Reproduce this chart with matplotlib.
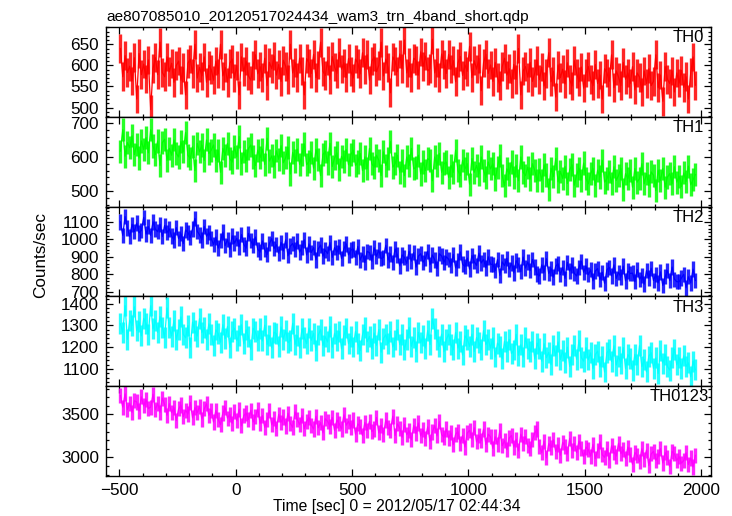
import numpy as np
import matplotlib
matplotlib.use("Agg")
import matplotlib.pyplot as plt
from matplotlib.ticker import MultipleLocator

plt.rcParams['font.family'] = ['Liberation Sans', 'DejaVu Sans']

title = "ae807085010_20120517024434_wam3_trn_4band_short.qdp"
xlabel = "Time [sec] 0 = 2012/05/17 02:44:34"
ylabel = "Counts/sec"

# bin centres [s]
time_start, time_step, n_bins = -495, 10, 248
times = time_start + time_step * np.arange(n_bins)

th0 = [640,573,623,583,598,563,618,520,628,578,603,568,613,495,593,618,578,655,583,573,
       620,585,605,560,600,610,565,595,530,605,615,580,650,570,595,575,620,560,600,590,
       565,610,580,650,575,595,560,605,615,570,600,530,620,585,610,575,565,600,625,580,
       597,572,617,552,607,592,622,577,602,562,612,597,567,650,582,607,572,617,587,530,
       616,606,581,626,571,601,655,586,576,611,566,621,596,581,631,591,606,571,616,586,
       570,615,605,580,630,590,625,565,610,620,585,600,655,575,615,595,535,620,610,585,
       627,592,660,582,607,572,617,612,577,632,597,622,587,592,662,582,607,572,627,602,
       581,626,591,611,561,606,621,576,601,586,645,571,611,591,616,540,606,626,581,601,
       562,607,572,552,597,617,577,592,557,602,567,640,530,587,597,572,607,562,582,612,
       566,596,551,581,630,561,586,525,601,571,591,556,606,566,551,611,581,561,596,546,
       582,597,567,552,602,557,577,520,592,582,562,625,547,587,572,552,607,567,582,557,
       597,542,582,572,537,587,557,592,552,562,625,547,577,515,597,567,557,587,537,582,
       558,588,548,573,520,583,620,553]

th1 = [617,680,602,642,627,662,607,637,597,647,622,657,612,680,632,607,647,575,642,652,
       590,625,605,650,610,600,645,615,672,605,595,630,560,640,615,635,590,650,610,620,
       635,590,620,555,625,605,640,595,585,630,600,660,580,615,590,625,635,600,575,620,
       598,623,578,655,588,603,573,618,593,633,583,598,628,550,613,588,623,578,608,638,
       577,587,612,567,622,592,545,607,617,582,640,572,597,612,562,602,587,622,577,607,
       620,575,585,610,560,600,565,625,580,570,605,590,545,615,575,595,645,570,580,605,
       555,590,545,600,575,625,565,570,605,550,585,560,595,590,530,600,575,610,555,580,
       585,540,575,555,620,560,545,590,565,580,520,595,555,575,550,600,560,540,585,565,
       580,535,570,605,545,515,565,550,585,540,575,530,600,555,545,570,535,580,560,530,
       562,532,577,547,505,567,542,595,527,557,537,572,522,562,577,517,547,567,532,582,
       536,521,551,566,516,561,541,590,526,536,556,521,571,531,546,566,505,551,536,561,
       511,566,526,536,580,521,551,516,556,546,501,561,531,566,511,541,551,521,571,526,
       543,513,553,528,573,518,533,548]

th2 = [1100,1023,1130,1065,1016,1086,1044,1093,1037,1051,1125,1030,1072,1023,1100,1058,1044,1086,1016,1079,
       1039,1060,1018,997,1067,1004,1032,976,1053,1039,1011,1060,1120,1046,1025,997,1074,1018,1039,1004,
       971,1013,950,992,1041,964,999,943,1020,978,1006,957,1027,971,950,1034,992,964,1013,943,
       927,990,941,913,976,1004,948,969,920,983,934,997,906,962,976,941,990,927,955,997,
       911,974,925,953,883,946,967,904,939,918,981,897,953,925,960,890,946,974,911,939,
       945,896,959,882,917,868,931,924,875,952,903,938,889,896,966,882,917,868,945,910,
       848,911,897,862,932,876,925,841,904,918,869,890,932,855,911,883,834,918,904,869,
       900,886,851,914,837,879,928,858,844,893,830,907,872,851,921,865,886,837,900,858,
       857,822,885,794,871,850,892,829,864,808,878,857,815,899,836,871,822,885,843,801,
       791,854,812,889,805,833,784,847,861,798,840,777,868,819,854,805,791,840,875,812,
       847,798,826,763,819,833,770,812,749,826,840,791,854,777,812,784,847,763,819,805,
       807,758,828,772,793,744,821,779,835,765,800,751,814,737,786,821,765,842,772,758,
       758,779,800,723,786,751,830,765]

th3 = [1308,1268,1390,1236,1324,1300,1385,1276,1316,1252,1332,1308,1260,1390,1284,1324,1268,1340,1292,1244,
       1380,1291,1251,1323,1235,1283,1339,1259,1243,1299,1200,1315,1275,1251,1331,1267,1291,1235,1307,1259,
       1207,1279,1263,1223,1303,1239,1295,1199,1271,1287,1231,1255,1303,1215,1279,1247,1191,1287,1271,1231,
       1285,1229,1301,1213,1253,1197,1269,1261,1205,1293,1237,1277,1221,1229,1309,1213,1253,1197,1285,1245,
       1216,1288,1232,1264,1184,1256,1280,1208,1248,1224,1296,1200,1264,1232,1272,1192,1256,1288,1216,1248,
       1201,1273,1217,1185,1257,1289,1225,1249,1193,1265,1209,1281,1177,1241,1257,1217,1273,1201,1233,1281,
       1212,1260,1188,1236,1292,1204,1244,1180,1268,1220,1252,1196,1276,1212,1330,1284,1236,1204,1260,1180,
       1236,1260,1212,1188,1268,1196,1228,1164,1252,1236,1204,1260,1180,1244,1220,1188,1276,1212,1236,1196,
       1243,1155,1219,1203,1147,1227,1179,1235,1171,1187,1259,1163,1211,1155,1243,1195,1179,1227,1147,1219,
       1192,1136,1216,1152,1176,1120,1208,1160,1224,1144,1184,1128,1200,1112,1168,1208,1144,1232,1152,1136,
       1198,1142,1174,1102,1166,1182,1110,1158,1086,1174,1190,1134,1206,1118,1158,1126,1198,1102,1166,1150,
       1095,1167,1119,1207,1111,1143,1087,1159,1175,1103,1151,1079,1183,1127,1167,1111,1095,1151,1191,1119,
       1152,1104,1160,1112,1128,1064,1136,1096]

th0123 = [3720,3585,3740,3555,3630,3525,3660,3645,3540,3705,3600,3675,3570,3585,3735,3555,3630,3525,3690,3615,
          3490,3625,3520,3580,3430,3565,3610,3475,3550,3505,3640,3460,3580,3520,3595,3445,3565,3625,3490,3550,
          3412,3547,3442,3382,3517,3577,3457,3502,3397,3532,3427,3562,3367,3487,3517,3442,3547,3412,3472,3562,
          3395,3485,3350,3440,3545,3380,3455,3335,3500,3410,3470,3365,3515,3395,3350,3530,3440,3380,3485,3335,
          3420,3465,3375,3330,3480,3345,3405,3285,3450,3420,3360,3465,3315,3435,3390,3330,3495,3375,3420,3345,
          3435,3270,3390,3360,3255,3405,3315,3420,3300,3330,3465,3285,3375,3270,3435,3345,3315,3480,3255,3390,
          3340,3235,3385,3265,3310,3205,3370,3280,3400,3250,3325,3220,3355,3190,3295,3370,3250,3415,3265,3235,
          3330,3225,3285,3150,3270,3300,3165,3255,3120,3285,3315,3210,3345,3180,3255,3195,3330,3150,3270,3240,
          3105,3240,3150,3315,3135,3195,3090,3225,3255,3120,3210,3075,3270,3165,3240,3135,3105,3210,3285,3330,
          3130,3055,3190,2995,3160,3115,3205,3070,3145,3025,3175,3130,3040,3220,3085,3160,3055,3190,3100,3010,
          3120,3090,3015,3150,2985,3075,3180,3030,3000,3105,2970,3135,3060,3015,3165,3045,3090,2985,3120,3030,
          2920,3055,3025,2950,3100,2980,3085,2905,3040,3070,2965,3010,3100,2935,3055,2995,2890,3070,3040,2965,
          3008,2933,2963,3053,2918,2993,2888,3023]

# spread (half-range) of the counts within each bin, per band
errors = [34, 34, 44, 48, 88]
names = ["TH0", "TH1", "TH2", "TH3", "TH0123"]
series = [th0, th1, th2, th3, th0123]
colors = ["#ff0000", "#00ff00", "#0000ff", "#00ffff", "#ff00ff"]
ylims = [(478, 691), (454, 718), (674, 1187), (1021, 1433), (2783, 3829)]
ymajor = [50, 100, 100, 100, 500]
yminor = [10, 20, 20, 20, 100]
label_x = [0.988, 0.988, 0.988, 0.988, 0.997]

W, H = 732, 516
fig = plt.figure(figsize=(W / 100, H / 100), dpi=100)
left, right, top, bottom = 106 / W, 711 / W, 1 - 27 / H, 1 - 476 / H
ph = (top - bottom) / 5

for i in range(5):
    ax = fig.add_axes([left, top - (i + 1) * ph, right - left, ph])
    y = np.array(series[i], dtype=float)
    ax.errorbar(times, y, yerr=errors[i], fmt='none', ecolor=colors[i],
                elinewidth=2.4, capsize=0, alpha=0.85)
    ax.plot(times, y, '-', color=colors[i], lw=0.9)
    ax.set_xlim(-557, 2042)
    ax.set_ylim(*ylims[i])
    ax.xaxis.set_major_locator(MultipleLocator(500))
    ax.xaxis.set_minor_locator(MultipleLocator(100))
    ax.yaxis.set_major_locator(MultipleLocator(ymajor[i]))
    ax.yaxis.set_minor_locator(MultipleLocator(yminor[i]))
    ax.tick_params(which='both', direction='in', top=True, right=True,
                   labelsize=12.3, width=0.9, colors='black')
    ax.tick_params(which='major', length=5, pad=5)
    ax.tick_params(which='minor', length=2.5)
    for s in ax.spines.values():
        s.set_linewidth(1.0)
    if i < 4:
        ax.tick_params(labelbottom=False)
    ax.text(label_x[i], 0.965, names[i], transform=ax.transAxes, ha='right', va='top',
            fontsize=12)

fig.text(left, 1 - 21 / H, title, ha='left', va='baseline', fontsize=11.1)
fig.text(397 / W, 1 - 499 / H, xlabel, ha='center', va='top', fontsize=11.3)
fig.text(41 / W, 1 - 255 / H, ylabel, ha='center', va='center', rotation=90, fontsize=12.3)

fig.savefig("out.png", dpi=100)
